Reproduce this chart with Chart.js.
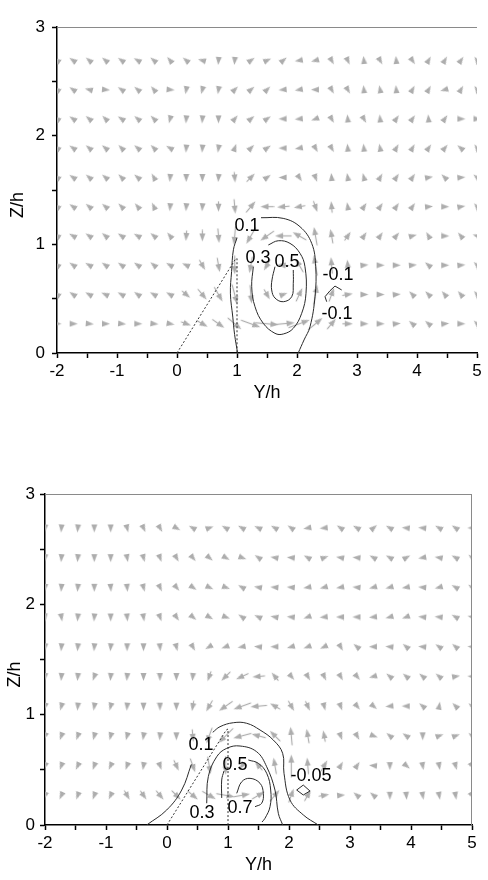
<!DOCTYPE html>
<html>
<head>
<meta charset="utf-8">
<script src="https://cdn.jsdelivr.net/npm/chart.js@4.4.0/dist/chart.umd.min.js"></script>
<style>
  html, body { margin: 0; padding: 0; background: #fff; }
  #wrap { position: relative; width: 488px; height: 880px; }
  #c1 { position: absolute; left: 0; top: 0; width: 488px; height: 420px; }
  #c2 { position: absolute; left: 0; top: 420px; width: 488px; height: 460px; }
</style>
</head>
<body>
<div id="wrap">
  <canvas id="c1" width="488" height="420"></canvas>
  <canvas id="c2" width="488" height="460"></canvas>
</div>
<script>
// grid of the vector field (Y/h columns, Z/h rows)
const gridY = [-2, -1.731, -1.462, -1.192, -0.923, -0.654, -0.385, -0.115, 0.154, 0.423, 0.692, 0.962, 1.231,
  1.5, 1.769, 2.038, 2.308, 2.577, 2.846, 3.115, 3.385, 3.654, 3.923, 4.192, 4.462, 4.731, 5];
const gridZ = [0.269, 0.538, 0.808, 1.077, 1.346, 1.615, 1.885, 2.154, 2.423, 2.692];

// --- upper plot: arrow direction (deg, from +Y, counter-clockwise), rows bottom -> top ---
const topAngle = [
  [0, 0, 355, 0, 355, 0, 355, 350, 340, 330, 325, 320, 340, 355, 5, 20, 40, 50, 0, 0, 0, 5, 140, 140, 5, 0, 135],
  [145, 145, 150, 155, 150, 145, 150, 150, 320, 310, 300, 285, 275, 300, 20, 65, 80, 70, 10, 0, 0, 5, 135, 135, 130, 130, 130],
  [145, 145, 150, 145, 145, 145, 140, 150, 155, 300, 280, 270, 260, 240, 175, 120, 100, 95, 95, 5, 0, 0, 5, 140, 0, 5, 135],
  [150, 150, 145, 140, 145, 150, 140, 130, 265, 270, 275, 265, 240, 215, 180, 150, 100, 100, 55, 55, 55, 50, 15, 120, 0, 130, 160],
  [145, 145, 140, 140, 135, 130, 115, 265, 265, 265, 270, 275, 50, 180, 185, 190, 290, 95, 100, 55, 55, 55, 55, 5, 0, 10, 130],
  [145, 145, 140, 140, 135, 140, 120, 265, 270, 270, 265, 275, 45, 35, 180, 305, 290, 95, 100, 105, 60, 55, 55, 10, 135, 5, 140],
  [145, 145, 140, 140, 135, 140, 135, 150, 265, 265, 260, 70, 45, 35, 180, 190, 300, 300, 95, 95, 100, 60, 60, 55, 50, 140, 125],
  [145, 145, 140, 135, 145, 140, 135, 255, 265, 265, 270, 50, 40, 35, 180, 185, 200, 300, 95, 300, 95, 55, 55, 95, 55, 0, 0],
  [145, 145, 165, 355, 145, 140, 130, 355, 260, 255, 260, 45, 40, 45, 185, 190, 180, 300, 300, 95, 100, 95, 60, 60, 195, 60, 125],
  [145, 145, 140, 140, 145, 150, 140, 130, 140, 165, 265, 265, 35, 25, 40, 190, 195, 300, 295, 95, 300, 95, 305, 60, 60, 55, 125]
];
// relative arrow length
const topSpeed = [
  [1, 1, 1, 1, 1, 1, 1, 1, 1.1, 1.3, 1.6, 1.9, 2.2, 2.5, 2.6, 2.4, 2.0, 1.4, 1.1, 1, 1, 1, 1, 1, 1, 1, 1],
  [1, 1, 1, 1, 1, 1, 1, 1, 1.1, 1.4, 1.8, 2.2, 2.0, 1.2, 0.9, 1.6, 2.2, 1.5, 1.1, 1, 1, 1, 1, 1, 1, 1, 1],
  [1, 1, 1, 1, 1, 1, 1, 1, 1, 1.2, 1.6, 2.0, 1.8, 1.3, 1.2, 1.7, 2.2, 1.8, 1.2, 1, 1, 1, 1, 1, 1, 1, 1],
  [1, 1, 1, 1, 1, 1, 1, 1, 1.1, 1.2, 1.5, 2.0, 2.0, 1.8, 1.8, 1.7, 2.0, 1.5, 1.1, 1, 1, 1, 1, 1, 1, 1, 1],
  [1, 1, 1, 1, 1, 1, 1, 1, 1, 1, 1.1, 1.5, 1.6, 1.4, 1.3, 1.2, 1.2, 1.2, 1, 1, 1, 1, 1, 1, 1, 1, 1],
  [1, 1, 1, 1, 1, 1, 1, 1, 1, 1, 1, 1.1, 1.2, 1, 1, 1, 1, 1, 1, 1, 1, 1, 1, 1, 1, 1, 1],
  [1, 1, 1, 1, 1, 1, 1, 1, 1, 1, 1, 1, 1, 1, 1, 1, 1, 1, 1, 1, 1, 1, 1, 1, 1, 1, 1],
  [1, 1, 1, 1, 1, 1, 1, 1, 1, 1, 1, 1, 1, 1, 1, 1, 1, 1, 1, 1, 1, 1, 1, 1, 1, 1, 1],
  [1, 1, 1, 1, 1, 1, 1, 1, 1, 1, 1, 1, 1, 1, 1, 1, 1, 1, 1, 1, 1, 1, 1, 1, 1, 1, 1],
  [1, 1, 1, 1, 1, 1, 1, 1, 1, 1, 1, 1, 1, 1, 1, 1, 1, 1, 1, 1, 1, 1, 1, 1, 1, 1, 1]
];

// contour lines, upper plot ([Y/h, Z/h] points)
const topC01a = [[1.01, 0], [0.96, 0.17], [0.93, 0.33], [0.89, 0.55], [0.91, 0.75], [0.94, 0.95], [1.0, 1.06]];
const topC01b = [[1.40, 1.245], [1.77, 1.239], [2.05, 1.162], [2.245, 1.009], [2.312, 0.794], [2.30, 0.518],
  [2.217, 0.242], [2.117, 0.12], [2.02, 0]];
const topC03 = [[1.272, 0.794], [1.245, 0.61], [1.30, 0.426], [1.438, 0.273], [1.633, 0.181], [1.772, 0.175],
  [1.938, 0.227], [2.078, 0.365], [2.15, 0.549], [2.133, 0.794], [2.05, 0.917], [1.883, 1.009], [1.688, 1.033], [1.522, 0.994]];
const topC05 = [[1.633, 0.794], [1.583, 0.672], [1.578, 0.58], [1.633, 0.506], [1.772, 0.472], [1.912, 0.518],
  [1.938, 0.641], [1.938, 0.764]];
const topCm01 = [[2.495, 0.472], [2.467, 0.518], [2.55, 0.573], [2.633, 0.616], [2.745, 0.58]];
const topLabelText = ['0.1', '0.3', '0.5', '-0.1', '-0.1'];
const topLabelY = [1.167, 1.35, 1.833, 2.683, 2.667];
const topLabelZ = [1.168, 0.874, 0.837, 0.718, 0.359];

// --- lower plot ---
const botAngle = [
  [250, 245, 250, 250, 245, 300, 305, 310, 315, 320, 330, 350, 10, 30, 50, 70, 60, 10, 5, 140, 140, 270, 275, 280, 280, 280, 300],
  [250, 250, 245, 250, 245, 250, 260, 290, 295, 290, 280, 270, 230, 130, 100, 90, 95, 60, 60, 55, 175, 270, 320, 280, 280, 285, 300],
  [250, 250, 250, 255, 255, 255, 260, 265, 270, 275, 250, 225, 195, 165, 135, 95, 100, 100, 290, 300, 340, 140, 145, 270, 20, 20, 140],
  [255, 255, 265, 260, 255, 265, 270, 270, 270, 260, 240, 215, 200, 185, 150, 300, 295, 285, 290, 310, 320, 185, 180, 140, 80, 135, 140],
  [265, 265, 265, 250, 265, 265, 270, 270, 270, 265, 250, 225, 205, 185, 130, 310, 300, 295, 300, 310, 195, 140, 140, 140, 140, 10, 175],
  [265, 265, 265, 265, 265, 270, 270, 275, 285, 300, 210, 200, 190, 175, 180, 195, 200, 205, 300, 140, 180, 175, 140, 175, 145, 140, 175],
  [275, 280, 265, 265, 270, 275, 280, 290, 305, 320, 330, 340, 145, 155, 170, 175, 200, 185, 180, 180, 185, 195, 200, 175, 175, 150, 165],
  [265, 265, 265, 270, 275, 275, 285, 295, 310, 325, 335, 340, 150, 170, 175, 175, 190, 195, 190, 175, 195, 195, 190, 175, 195, 150, 145],
  [265, 265, 265, 270, 270, 280, 285, 290, 300, 310, 320, 330, 340, 145, 170, 175, 150, 20, 170, 175, 150, 150, 30, 190, 170, 150, 140],
  [265, 265, 265, 270, 270, 285, 295, 300, 330, 150, 20, 150, 150, 155, 150, 145, 190, 185, 145, 150, 40, 150, 175, 175, 150, 145, 180]
];
const botSpeed = [
  [1, 1, 1, 1, 1, 1.1, 1.1, 1.2, 1.3, 1.4, 1.7, 2.0, 1.8, 1.6, 1.5, 1.6, 1.3, 1.1, 1, 1, 1, 1, 1, 1, 1, 1, 1],
  [1, 1, 1, 1, 1, 1, 1, 1, 1.2, 1.5, 1.9, 2.0, 1.0, 1.2, 1.8, 2.4, 1.8, 1.3, 1, 1, 1, 1, 1, 1, 1, 1, 1],
  [1, 1, 1, 1, 1, 1, 1, 1, 1, 1.3, 1.8, 2.2, 2.0, 1.6, 1.5, 2.0, 1.5, 1.2, 1, 1, 1, 1, 1, 1, 1, 1, 1],
  [1, 1, 1, 1, 1, 1, 1, 1, 1, 1.1, 1.3, 1.8, 2.0, 1.8, 1.2, 1.2, 1.1, 1, 1, 1, 1, 1, 1, 1, 1, 1, 1],
  [1, 1, 1, 1, 1, 1, 1, 1, 1, 1, 1.1, 1.3, 1.4, 1.3, 1.1, 1, 1, 1, 1, 1, 1, 1, 1, 1, 1, 1, 1],
  [1, 1, 1, 1, 1, 1, 1, 1, 1, 1, 1, 1, 1, 1, 1, 1, 1, 1, 1, 1, 1, 1, 1, 1, 1, 1, 1],
  [1, 1, 1, 1, 1, 1, 1, 1, 1, 1, 1, 1, 1, 1, 1, 1, 1, 1, 1, 1, 1, 1, 1, 1, 1, 1, 1],
  [1, 1, 1, 1, 1, 1, 1, 1, 1, 1, 1, 1, 1, 1, 1, 1, 1, 1, 1, 1, 1, 1, 1, 1, 1, 1, 1],
  [1, 1, 1, 1, 1, 1, 1, 1, 1, 1, 1, 1, 1, 1, 1, 1, 1, 1, 1, 1, 1, 1, 1, 1, 1, 1, 1],
  [1, 1, 1, 1, 1, 1, 1, 1, 1, 1, 1, 1, 1, 1, 1, 1, 1, 1, 1, 1, 1, 1, 1, 1, 1, 1, 1]
];
const botC01a = [[-0.333, 0], [-0.005, 0.136], [0.241, 0.317], [0.40, 0.55]];
const botC01b = [[0.75, 0.84], [0.869, 0.891], [1.087, 0.927], [1.306, 0.922], [1.525, 0.861], [1.743, 0.77],
  [1.896, 0.65], [1.918, 0.469], [2.016, 0.227], [2.235, 0.091], [2.48, 0]];
const botC03 = [[0.651, 0.197], [0.677, 0.438], [0.815, 0.619], [0.979, 0.695], [1.197, 0.716], [1.47, 0.664],
  [1.634, 0.528], [1.77, 0.317], [1.825, 0.106], [1.897, 0]];
const botC05a = [[0.897, 0.245], [0.897, 0.408], [0.934, 0.49]];
const botC05b = [[1.333, 0.589], [1.497, 0.559], [1.634, 0.469], [1.70, 0.317], [1.689, 0.166], [1.607, 0.061], [1.557, 0.027]];
const botC07 = [[1.143, 0.287], [1.225, 0.392], [1.361, 0.423], [1.525, 0.378], [1.579, 0.287], [1.552, 0.197], [1.443, 0.166]];
const botCm005 = [[2.126, 0.317], [2.234, 0.362], [2.344, 0.308], [2.234, 0.272], [2.126, 0.317]];
const botLabelText = ['0.1', '0.5', '0.3', '0.7', '-0.05'];
const botLabelY = [0.557, 1.115, 0.574, 1.197, 2.36];
const botLabelZ = [0.725, 0.544, 0.109, 0.154, 0.444];

// ramp outline (dotted) in both plots
const rampY = [0, 0.97, 1.0, 1.0];
const rampZ = [0, 0.86, 0.87, 0];

const FONT = "'Liberation Sans', Arial, sans-serif";
const ARROW_COLOR = '#adadad';

// arrow sprites, used as point style and turned with pointRotation
const arrowCache = {};
function arrowImage(speed) {
    const len = Math.max(9, Math.round(9 * speed));
    if (arrowCache[len]) return arrowCache[len];
    const c = document.createElement('canvas');
    c.width = len + 2;
    c.height = 7;
    const g = c.getContext('2d');
    g.strokeStyle = ARROW_COLOR;
    g.fillStyle = ARROW_COLOR;
    g.lineWidth = 1.2;
    const head = 8;
    if (len > head + 1) {
        g.beginPath();
        g.moveTo(0.5, 3.5);
        g.lineTo(len + 1 - head, 3.5);
        g.stroke();
    }
    g.beginPath();
    g.moveTo(len + 1, 3.5);
    g.lineTo(len + 1 - head, 0.5);
    g.lineTo(len + 1 - head, 6.5);
    g.closePath();
    g.fill();
    arrowCache[len] = c;
    return c;
}

function quiverPoints(angles, speeds) {
    const pts = [];
    gridZ.forEach((z, j) => {
        gridY.forEach((y, k) => {
            pts.push({ x: y, y: z, a: angles[j][k], s: speeds[j][k] });
        });
    });
    return pts;
}

function toXY(pairs) {
    return pairs.map(p => ({ x: p[0], y: p[1] }));
}

function contour(pairs, tension) {
    return {
        data: toXY(pairs),
        showLine: true,
        borderColor: '#2a2a2a',
        borderWidth: 1,
        pointRadius: 0,
        tension: tension,
        fill: false,
        order: 1
    };
}

function rampDataset() {
    return {
        data: rampY.map((y, i) => ({ x: y, y: rampZ[i] })),
        showLine: true,
        borderColor: '#333',
        borderWidth: 1,
        borderDash: [2, 2],
        pointRadius: 0,
        tension: 0,
        order: 1
    };
}

function arrowDataset(angles, speeds) {
    return {
        data: quiverPoints(angles, speeds),
        showLine: false,
        pointRadius: 4,
        pointStyle: ctx => arrowImage(ctx.raw ? ctx.raw.s : 1),
        pointRotation: ctx => (ctx.raw ? -ctx.raw.a : 0),
        order: 2
    };
}

// gray frame lines + contour labels
const overlay = {
    id: 'overlay',
    afterDatasetsDraw(chart, args, opts) {
        const { ctx, chartArea: a, scales: { x, y } } = chart;
        ctx.save();
        ctx.strokeStyle = '#8a8a8a';
        ctx.lineWidth = 1;
        ctx.beginPath();
        ctx.moveTo(a.left, a.top + 0.5);
        ctx.lineTo(a.right, a.top + 0.5);
        if (opts.rightEdge) {
            ctx.moveTo(a.right - 0.5, a.top);
            ctx.lineTo(a.right - 0.5, a.bottom);
        }
        ctx.stroke();
        ctx.fillStyle = '#000';
        ctx.font = '18px ' + FONT;
        ctx.textAlign = 'center';
        ctx.textBaseline = 'middle';
        opts.texts.forEach((t, i) => {
            ctx.fillText(t, x.getPixelForValue(opts.ly[i]), y.getPixelForValue(opts.lz[i]));
        });
        ctx.restore();
    }
};

function scalesFor(yWidth, yPad) {
    const tickFont = { family: FONT, size: 17 };
    const titleFont = { family: FONT, size: 18 };
    return {
        x: {
            type: 'linear', min: -2, max: 5,
            afterFit: s => { s.height = 50.8; },
            ticks: {
                stepSize: 0.5, autoSkip: false, maxRotation: 0, color: '#000', font: tickFont, padding: 3,
                callback: v => (Number.isInteger(v) ? String(v) : '')
            },
            grid: { drawOnChartArea: false, drawTicks: true, tickLength: 5, tickColor: '#000', tickWidth: 1.5 },
            border: { color: '#000', width: 1.5 },
            title: { display: true, text: 'Y/h', color: '#000', font: titleFont, padding: 0 }
        },
        y: {
            type: 'linear', min: 0, max: 3,
            afterFit: s => { s.width = yWidth; },
            ticks: {
                stepSize: 0.5, autoSkip: false, color: '#000', font: tickFont, padding: yPad,
                callback: v => (Number.isInteger(v) ? String(v) : '')
            },
            grid: { drawOnChartArea: false, drawTicks: true, tickLength: 5, tickColor: '#000', tickWidth: 1.5 },
            border: { color: '#000', width: 1.5 },
            title: { display: true, text: 'Z/h      ', color: '#000', font: titleFont, padding: 0 }
        }
    };
}

function baseOptions(padding, yWidth, yPad, overlayOpts) {
    return {
        responsive: false,
        animation: false,
        events: [],
        layout: { padding: padding },
        plugins: { legend: { display: false }, tooltip: { enabled: false }, overlay: overlayOpts },
        scales: scalesFor(yWidth, yPad)
    };
}

new Chart(document.getElementById('c1'), {
    type: 'scatter',
    data: {
        datasets: [
            arrowDataset(topAngle, topSpeed),
            contour(topC01a, 0.4), contour(topC01b, 0.4), contour(topC03, 0.4), contour(topC05, 0.4),
            contour(topCm01, 0),
            rampDataset()
        ]
    },
    options: baseOptions({ left: 7.5, right: 11, top: 27, bottom: 16.2 }, 49.5, 7,
        { texts: topLabelText, ly: topLabelY, lz: topLabelZ, rightEdge: false }),
    plugins: [overlay]
});

new Chart(document.getElementById('c2'), {
    type: 'scatter',
    data: {
        datasets: [
            arrowDataset(botAngle, botSpeed),
            contour(botC01a, 0.4), contour(botC01b, 0.4), contour(botC03, 0.4),
            contour(botC05a, 0.4), contour(botC05b, 0.4), contour(botC07, 0.4),
            contour(botCm005, 0),
            rampDataset()
        ]
    },
    options: baseOptions({ left: 4.2, right: 16, top: 74, bottom: 4.2 }, 40.8, 5,
        { texts: botLabelText, ly: botLabelY, lz: botLabelZ, rightEdge: true }),
    plugins: [overlay]
});
</script>
</body>
</html>
